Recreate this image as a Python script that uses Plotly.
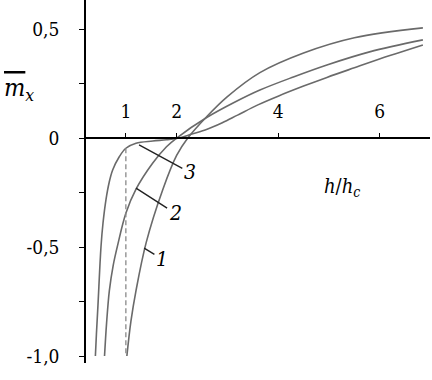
import plotly.graph_objects as go

# Curve data (h/hc, m_x)
c1_x = [1.02, 1.1, 1.2, 1.4, 1.73, 2.0, 2.22, 2.6, 3.0, 3.64, 4.5, 5.5, 6.85]
c1_y = [-1.0, -0.84, -0.70, -0.48, -0.235, -0.08, 0.0, 0.10, 0.19, 0.30, 0.39, 0.46, 0.505]

c2_x = [0.58, 0.62, 0.675, 0.75, 0.84, 1.0, 1.2, 1.53, 1.8, 2.0, 2.6, 3.15, 3.64, 4.3, 4.96, 5.8, 6.85]
c2_y = [-1.0, -0.85, -0.70, -0.585, -0.49, -0.345, -0.235, -0.115, -0.04, 0.0, 0.095, 0.165, 0.22, 0.28, 0.335, 0.395, 0.45]

c3_x = [0.40, 0.42, 0.45, 0.51, 0.55, 0.61, 0.67, 0.74, 0.87, 1.0, 1.2, 1.53, 1.8, 2.05, 2.3, 2.6, 2.9, 3.2, 3.6, 4.0, 4.5, 4.96, 5.5, 6.2, 6.85]
c3_y = [-1.0, -0.9, -0.77, -0.50, -0.39, -0.28, -0.205, -0.147, -0.086, -0.047, -0.024, -0.014, -0.008, 0.0, 0.018, 0.04, 0.07, 0.105, 0.152, 0.192, 0.238, 0.278, 0.322, 0.378, 0.427]

# dashed guide at h/hc = 1
guide_x = [1.0, 1.0]
guide_y = [-0.047, -1.0]

# axis ticks
x_tickvals = [1, 2, 4, 6]
x_ticktext = ["1", "2", "4", "6"]
y_tickvals = [0.5, 0, -0.5, -1.0]
y_ticktext = ["0,5", "0", "-0,5", "-1,0"]
y_minor_tickvals = [0.25, -0.25, -0.75]

# curve labels: text, point on curve, label position
lab_text = ["3", "2", "1"]
lab_pt_x = [1.26, 1.2, 1.36]
lab_pt_y = [-0.032, -0.23, -0.505]
lab_x = [2.26, 1.97, 1.71]
lab_y = [-0.158, -0.345, -0.555]

curve_color = "#6a6a6a"
FONT = "DejaVu Serif Condensed, DejaVu Serif, serif"

fig = go.Figure()
for xs, ys in [(c1_x, c1_y), (c2_x, c2_y), (c3_x, c3_y)]:
    fig.add_trace(go.Scatter(x=xs, y=ys, mode="lines",
                             line=dict(color=curve_color, width=1.6, shape="spline", smoothing=1.0),
                             showlegend=False, hoverinfo="skip"))
fig.add_trace(go.Scatter(x=guide_x, y=guide_y, mode="lines",
                         line=dict(color="#8a8a8a", width=1.3, dash="5px,3px"),
                         showlegend=False, hoverinfo="skip"))

for t, px_, py_, lx, ly in zip(lab_text, lab_pt_x, lab_pt_y, lab_x, lab_y):
    fig.add_annotation(x=px_, y=py_, ax=lx, ay=ly, axref="x", ayref="y", xref="x", yref="y",
                       text="<i>%s</i>" % t, showarrow=True, arrowhead=0, arrowwidth=1.4,
                       arrowcolor="#222222", font=dict(family=FONT, size=21, color="black"))

# axis titles
fig.add_annotation(xref="paper", yref="paper", x=-0.245, y=0.755, xanchor="left", yanchor="middle",
                   text="<span style='text-decoration:overline'><i>m</i></span><sub><i>x</i></sub>",
                   showarrow=False, font=dict(family=FONT, size=25, color="black"))
fig.add_annotation(xref="paper", yref="paper", x=0.685, y=0.485, xanchor="left", yanchor="middle",
                   text="<i>h</i>/<i>h</i><sub><i>c</i></sub>",
                   showarrow=False, font=dict(family=FONT, size=20, color="black"))

fig.update_layout(
    width=432, height=380,
    margin=dict(l=86, r=2, t=0, b=17, autoexpand=False),
    paper_bgcolor="white", plot_bgcolor="white",
    font=dict(family=FONT, size=19, color="black"),
    xaxis=dict(range=[0.215, 6.99], showgrid=False, zeroline=False, automargin=False,
               showline=True, linecolor="black", linewidth=1.5,
               anchor="free", position=1.032 / 1.665, side="top",
               tickmode="array", tickvals=x_tickvals, ticktext=x_ticktext,
               ticks="outside", ticklen=4, tickwidth=1.3, tickcolor="black",
               ticklabelstandoff=8),
    yaxis=dict(range=[-1.032, 0.633], showgrid=False, zeroline=False, automargin=False,
               showline=True, linecolor="black", linewidth=1.5,
               tickmode="array", tickvals=y_tickvals, ticktext=y_ticktext,
               ticks="outside", ticklen=5, tickwidth=1.3, tickcolor="black",
               ticklabelstandoff=16,
               minor=dict(tickmode="array", tickvals=y_minor_tickvals, ticks="outside",
                          ticklen=5, tickwidth=1.3, tickcolor="black", showgrid=False)),
)

fig.write_html("out.html", config={"displayModeBar": False},
               post_script="document.body.style.margin='0';document.body.style.padding='0';")
